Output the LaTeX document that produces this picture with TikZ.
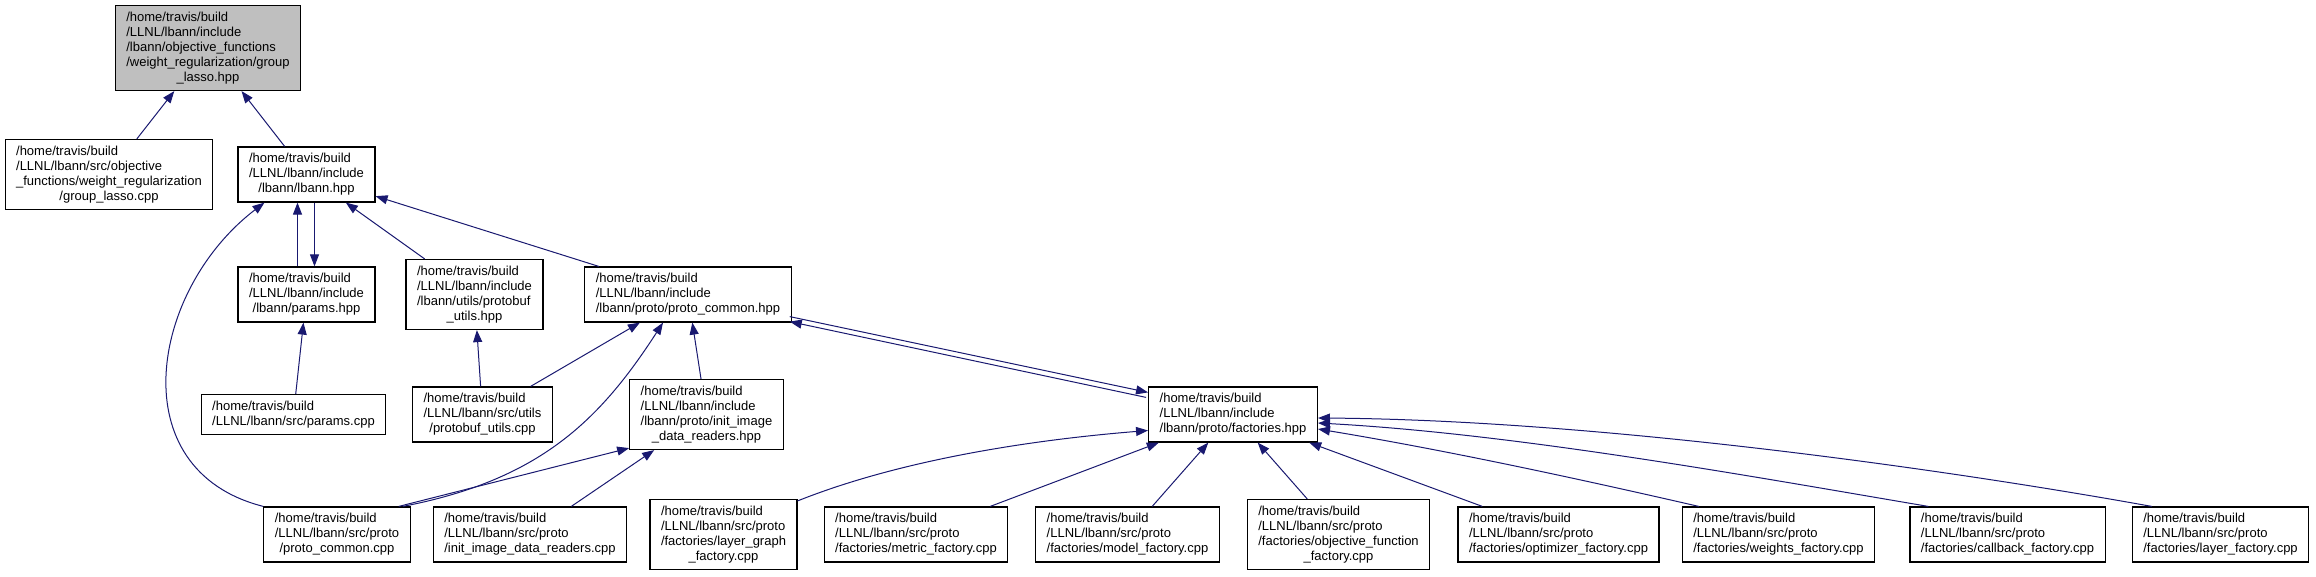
\documentclass[tikz,border=0pt]{standalone}
\usepackage{fontspec}
\setmainfont{Liberation Sans}
\usepackage{tikz}
\usetikzlibrary{arrows.meta,calc}

\definecolor{edgeblue}{HTML}{191970}
\definecolor{rootgray}{HTML}{BFBFBF}

\newcommand{\flabel}[2]{\begin{tabular}{@{}l@{}}#1\\\multicolumn{1}{@{}c@{}}{#2}\end{tabular}}

\begin{document}
\begin{tikzpicture}[
    x=1pt, y=-1pt,
    box/.style={draw, line width=1.2pt, inner xsep=11pt, inner ysep=5pt, font=\fontsize{13}{15}\selectfont},
    arrow/.style={-{Triangle[length=12pt,width=9pt]}, line width=1pt, draw=edgeblue}
]
    \useasboundingbox (0,0) rectangle (2316,576);

    \node[box, fill=rootgray] (glhpp) at (208,48) {\flabel{/home/travis/build\\/LLNL/lbann/include\\/lbann/objective\_functions\\/weight\_regularization/group}{\_lasso.hpp}};
    \node[box] (glcpp) at (109,174.5) {\flabel{/home/travis/build\\/LLNL/lbann/src/objective\\\_functions/weight\_regularization}{/group\_lasso.cpp}};
    \node[box] (lbann) at (306.5,174.5) {\flabel{/home/travis/build\\/LLNL/lbann/include}{/lbann/lbann.hpp}};
    \node[box] (params) at (306.5,294.5) {\flabel{/home/travis/build\\/LLNL/lbann/include}{/lbann/params.hpp}};
    \node[box] (pbhpp) at (474.5,294.5) {\flabel{/home/travis/build\\/LLNL/lbann/include\\/lbann/utils/protobuf}{\_utils.hpp}};
    \node[box] (pchpp) at (688,294.5) {\flabel{/home/travis/build\\/LLNL/lbann/include}{/lbann/proto/proto\_common.hpp}};
    \node[box] (paramscpp) at (293.5,414.5) {\flabel{/home/travis/build}{/LLNL/lbann/src/params.cpp}};
    \node[box] (pbcpp) at (482.5,414.5) {\flabel{/home/travis/build\\/LLNL/lbann/src/utils}{/protobuf\_utils.cpp}};
    \node[box] (inithpp) at (706.5,414.5) {\flabel{/home/travis/build\\/LLNL/lbann/include\\/lbann/proto/init\_image}{\_data\_readers.hpp}};
    \node[box] (facthpp) at (1233,414.5) {\flabel{/home/travis/build\\/LLNL/lbann/include}{/lbann/proto/factories.hpp}};
    \node[box] (pccpp) at (337,534.5) {\flabel{/home/travis/build\\/LLNL/lbann/src/proto}{/proto\_common.cpp}};
    \node[box] (initcpp) at (530,534.5) {\flabel{/home/travis/build\\/LLNL/lbann/src/proto}{/init\_image\_data\_readers.cpp}};
    \node[box] (lgcpp) at (723.5,534.5) {\flabel{/home/travis/build\\/LLNL/lbann/src/proto\\/factories/layer\_graph}{\_factory.cpp}};
    \node[box] (metric) at (916,534.5) {\flabel{/home/travis/build\\/LLNL/lbann/src/proto}{/factories/metric\_factory.cpp}};
    \node[box] (model) at (1127.5,534.5) {\flabel{/home/travis/build\\/LLNL/lbann/src/proto}{/factories/model\_factory.cpp}};
    \node[box] (objfn) at (1338.5,534.5) {\flabel{/home/travis/build\\/LLNL/lbann/src/proto\\/factories/objective\_function}{\_factory.cpp}};
    \node[box] (optim) at (1558.5,534.5) {\flabel{/home/travis/build\\/LLNL/lbann/src/proto}{/factories/optimizer\_factory.cpp}};
    \node[box] (weights) at (1778.5,534.5) {\flabel{/home/travis/build\\/LLNL/lbann/src/proto}{/factories/weights\_factory.cpp}};
    \node[box] (callback) at (2007.5,534.5) {\flabel{/home/travis/build\\/LLNL/lbann/src/proto}{/factories/callback\_factory.cpp}};
    \node[box] (layer) at (2220.5,534.5) {\flabel{/home/travis/build\\/LLNL/lbann/src/proto}{/factories/layer\_factory.cpp}};

    \draw[arrow] (glcpp) -- (glhpp);
    \draw[arrow] (lbann) -- (glhpp);
    \draw[arrow] ($(params.north)+(-9,0)$) -- ($(lbann.south)+(-9,0)$);
    \draw[arrow] ($(lbann.south)+(8,0)$) -- ($(params.north)+(8,0)$);
    \draw[arrow] (pbhpp) -- (lbann);
    \draw[arrow] (pchpp) -- (lbann);
    \draw[arrow] (pccpp.north west) .. controls (120,470) and (150,290) .. ($(lbann.south west)+(27,0)$);
    \draw[arrow] (paramscpp) -- (params);
    \draw[arrow] (pbcpp) -- (pbhpp);
    \draw[arrow] (pbcpp) -- (pchpp);
    \draw[arrow] ($(pccpp.north east)+(-8,0)$) .. controls (540,480) and (600,420) .. ($(pchpp.south)+(-25,0)$);
    \draw[arrow] ($(pccpp.north east)+(-12,0)$) -- ($(inithpp.south west)+(0,-2)$);
    \draw[arrow] (inithpp) -- (pchpp);
    \draw[arrow] (initcpp) -- (inithpp);
    \draw[arrow] ($(pchpp.south east)+(-2,-6)$) -- ($(facthpp.north west)+(0,6)$);
    \draw[arrow] ($(facthpp.north west)+(-2,11)$) -- ($(pchpp.south east)+(-2,-1)$);
    \draw[arrow] ($(lgcpp.north east)+(0,2)$) .. controls (900,460) and (1030,440) .. ($(facthpp.west)+(0,16)$);
    \draw[arrow] (metric) -- (facthpp);
    \draw[arrow] (model) -- (facthpp);
    \draw[arrow] (objfn) -- (facthpp);
    \draw[arrow] (optim) -- (facthpp);
    \draw[arrow] ($(weights.north west)+(17,0)$) .. controls (1575,478) and (1445,450) .. ($(facthpp.east)+(0,14.5)$);
    \draw[arrow] ($(callback.north west)+(19,0)$) .. controls (1760,478) and (1520,434) .. ($(facthpp.east)+(0,8.5)$);
    \draw[arrow] ($(layer.north west)+(20,0)$) .. controls (1950,470) and (1600,420) .. ($(facthpp.east)+(0,3.5)$);
\end{tikzpicture}
\end{document}
